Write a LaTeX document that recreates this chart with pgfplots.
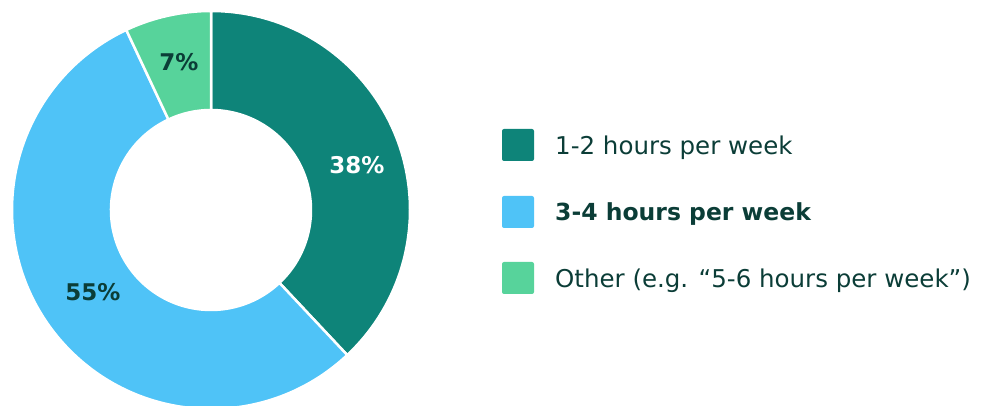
\documentclass[border=0pt]{standalone}
\usepackage{pgfplots}
\pgfplotsset{compat=1.18}
\usepackage{fontspec}
\setmainfont{DejaVu Sans}
\definecolor{cA}{HTML}{0E8479}
\definecolor{cB}{HTML}{4FC3F7}
\definecolor{cC}{HTML}{57D39B}
\definecolor{txt}{HTML}{0B3D37}
% data (percent)
\def\vA{38}\def\vB{55}\def\vC{7}
\pgfmathsetmacro{\aA}{90}
\pgfmathsetmacro{\aB}{90-3.6*\vA}
\pgfmathsetmacro{\aC}{\aB-3.6*\vB}
\pgfmathsetmacro{\aD}{\aC-3.6*\vC}
\def\Ro{199pt}\def\Ri{100pt}
\newcommand{\slice}[3]{%
  \filldraw[fill=#3,draw=white,line width=2.5pt,line join=miter]
   ([shift={(#1:\Ro)}]O) arc[start angle=#1,end angle=#2,radius=\Ro]
   -- ([shift={(#2:\Ri)}]O) arc[start angle=#2,end angle=#1,radius=\Ri] -- cycle;}
\begin{document}
\begin{tikzpicture}
\begin{axis}[width=989pt,height=406pt,scale only axis,hide axis,
  xmin=0,xmax=989,ymin=0,ymax=406,clip=true]
\coordinate (O) at (axis cs:211,196);
\slice{\aA}{\aB}{cA}
\slice{\aB}{\aC}{cB}
\slice{\aC}{\aD}{cC}
\node[font=\fontsize{23}{27}\selectfont\bfseries,text=white] at (axis cs:357,241) {38\%};
\node[font=\fontsize{23}{27}\selectfont\bfseries,text=txt] at (axis cs:93,114) {55\%};
\node[font=\fontsize{23}{27}\selectfont\bfseries,text=txt] at (axis cs:179,344) {7\%};
% legend
\fill[cA,rounded corners=2pt] (axis cs:502,245) rectangle (axis cs:534,277);
\fill[cB,rounded corners=2pt] (axis cs:502,178) rectangle (axis cs:534,210);
\fill[cC,rounded corners=2pt] (axis cs:502,112) rectangle (axis cs:534,144);
\node[anchor=base west,inner sep=0pt,text=txt,font=\fontsize{24.5}{28}\selectfont] at (axis cs:555,251) {1-2 hours per week};
\node[anchor=base west,inner sep=0pt,text=txt,font=\fontsize{23.5}{28}\selectfont\bfseries] at (axis cs:555,185) {3-4 hours per week};
\node[anchor=base west,inner sep=0pt,text=txt,font=\fontsize{24.5}{28}\selectfont] at (axis cs:555,118) {Other (e.g. “5-6 hours per week”)};
\end{axis}
\pgfresetboundingbox
\path[use as bounding box] (current axis.south west) rectangle (current axis.north east);
\end{tikzpicture}
\end{document}
